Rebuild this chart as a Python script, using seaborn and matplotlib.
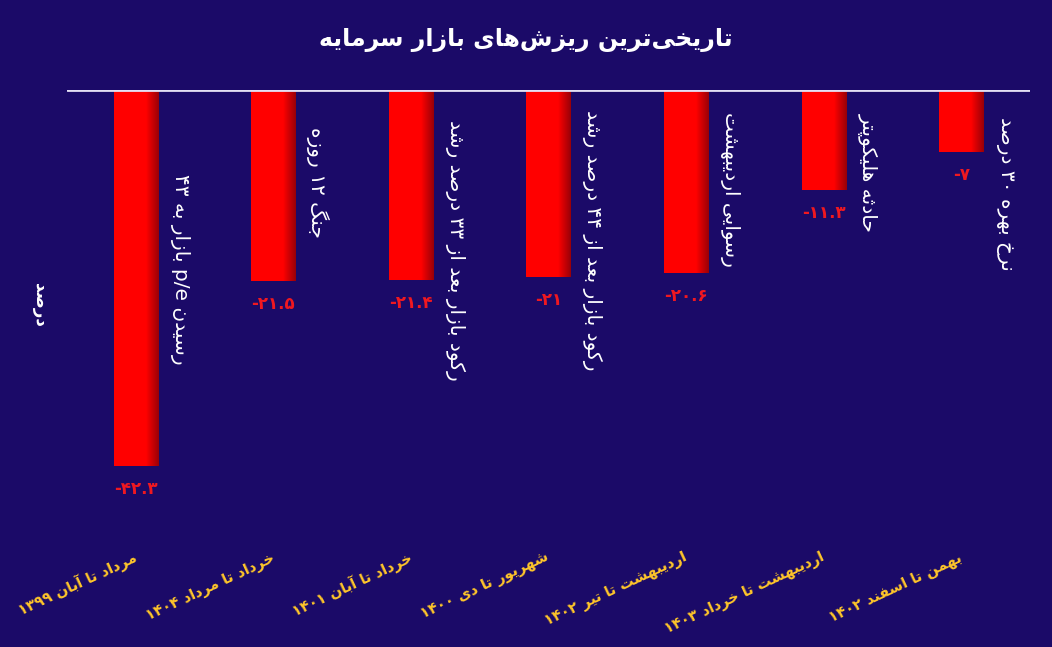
import matplotlib
matplotlib.use("Agg")
import matplotlib.pyplot as plt
import seaborn as sns
import pandas as pd
import numpy as np
from matplotlib.colors import LinearSegmentedColormap

# -----------------------------
# Data
# -----------------------------
periods = [
    "مرداد تا آبان ۱۳۹۹",
    "خرداد تا مرداد ۱۴۰۴",
    "خرداد تا آبان ۱۴۰۱",
    "شهریور تا دی ۱۴۰۰",
    "اردیبهشت تا تیر ۱۴۰۲",
    "اردیبهشت تا خرداد ۱۴۰۳",
    "بهمن تا اسفند ۱۴۰۲",
]
drops = [-42.3, -21.5, -21.4, -21.0, -20.6, -11.3, -7.0]
value_labels = ["-۴۲.۳", "-۲۱.۵", "-۲۱.۴", "-۲۱", "-۲۰.۶", "-۱۱.۳", "-۷"]
notes = [
    "رسیدن p/e بازار به ۴۳",
    "جنگ ۱۲ روزه",
    "رکود بازار بعد از ۳۳ درصد رشد",
    "رکود بازار بعد از ۴۴ درصد رشد",
    "رسوایی اردیبهشت",
    "حادثه هلیکوپتر",
    "نرخ بهره ۳۰ درصد",
]
title = "تاریخی‌ترین ریزش‌های بازار سرمایه"
ylabel = "درصد"

# top of each note (layout only)
note_top = [-9.5, -4.2, -3.4, -2.3, -2.5, -2.6, -3.1]

# -----------------------------
# Minimal Persian shaping (no reshaper lib available)
# -----------------------------
FORMS = {
    "ا": ("\uFE8D", "\uFE8E", None, None),
    "آ": ("\uFE81", "\uFE82", None, None),
    "ب": ("\uFE8F", "\uFE90", "\uFE91", "\uFE92"),
    "پ": ("\uFB56", "\uFB57", "\uFB58", "\uFB59"),
    "ت": ("\uFE95", "\uFE96", "\uFE97", "\uFE98"),
    "ث": ("\uFE99", "\uFE9A", "\uFE9B", "\uFE9C"),
    "ج": ("\uFE9D", "\uFE9E", "\uFE9F", "\uFEA0"),
    "ح": ("\uFEA1", "\uFEA2", "\uFEA3", "\uFEA4"),
    "خ": ("\uFEA5", "\uFEA6", "\uFEA7", "\uFEA8"),
    "د": ("\uFEA9", "\uFEAA", None, None),
    "ر": ("\uFEAD", "\uFEAE", None, None),
    "ز": ("\uFEAF", "\uFEB0", None, None),
    "س": ("\uFEB1", "\uFEB2", "\uFEB3", "\uFEB4"),
    "ش": ("\uFEB5", "\uFEB6", "\uFEB7", "\uFEB8"),
    "ص": ("\uFEB9", "\uFEBA", "\uFEBB", "\uFEBC"),
    "ع": ("\uFEC9", "\uFECA", "\uFECB", "\uFECC"),
    "ف": ("\uFED1", "\uFED2", "\uFED3", "\uFED4"),
    "ک": ("\uFB8E", "\uFB8F", "\uFB90", "\uFB91"),
    "گ": ("\uFB92", "\uFB93", "\uFB94", "\uFB95"),
    "ل": ("\uFEDD", "\uFEDE", "\uFEDF", "\uFEE0"),
    "م": ("\uFEE1", "\uFEE2", "\uFEE3", "\uFEE4"),
    "ن": ("\uFEE5", "\uFEE6", "\uFEE7", "\uFEE8"),
    "ه": ("\uFEE9", "\uFEEA", "\uFEEB", "\uFEEC"),
    "و": ("\uFEED", "\uFEEE", None, None),
    "ی": ("\uFBFC", "\uFBFD", "\uFBFE", "\uFBFF"),
}


def shape(text):
    out = []
    for i, c in enumerate(text):
        if c not in FORMS:
            if c != "\u200c":
                out.append(c)
            continue
        prev = text[i - 1] if i > 0 else None
        nxt = text[i + 1] if i + 1 < len(text) else None
        join_prev = prev in FORMS and FORMS[prev][2] is not None
        join_next = nxt in FORMS and FORMS[c][2] is not None
        iso, fin, ini, med = FORMS[c]
        if join_prev and join_next:
            out.append(med)
        elif join_prev:
            out.append(fin)
        elif join_next:
            out.append(ini)
        else:
            out.append(iso)
    return "".join(out)


def rtl(text):
    s = shape(text)
    runs = []
    for c in s:
        ltr = c.isdigit() or ("a" <= c.lower() <= "z") or c in "/."
        if runs and runs[-1][0] == ltr:
            runs[-1][1].append(c)
        else:
            runs.append((ltr, [c]))
    return "".join("".join(r) if ltr else "".join(r)[::-1] for ltr, r in reversed(runs))


# -----------------------------
# Plot
# -----------------------------
BG = "#1B0A68"
sns.set_theme(style="white")
plt.rcParams["font.family"] = ["DejaVu Sans"]

df = pd.DataFrame({"period": [rtl(p) for p in periods], "drop": drops})

fig = plt.figure(figsize=(10.52, 6.47), dpi=100, facecolor=BG)
ax = fig.add_axes([0.0637, 0.174, 0.9153, 0.687])
ax.set_facecolor(BG)

sns.barplot(data=df, x="period", y="drop", color="#FF0000", saturation=1,
            width=0.32, linewidth=0, ax=ax)

ax.set_xlim(-0.5, 6.5)
ax.set_ylim(-50, 0)

# shaded right edge on each bar
shade = LinearSegmentedColormap.from_list(
    "shade", [(0, "#FF0000"), (0.72, "#FF0000"), (1, "#9A0008")])
grad = np.linspace(0, 1, 64).reshape(1, -1)
for p in ax.patches:
    x0, y0 = p.get_x(), p.get_y()
    im = ax.imshow(grad, cmap=shade, aspect="auto", zorder=p.get_zorder() + 0.1,
                   extent=(x0, x0 + p.get_width(), y0 + p.get_height(), y0))
    im.set_clip_path(p)
ax.set_xlim(-0.5, 6.5)
ax.set_ylim(-50, 0)

ax.axhline(0, color="#E4E0F4", lw=2, zorder=5)

for s in ax.spines.values():
    s.set_visible(False)
ax.set_yticks([])
ax.set_xlabel("")
ax.set_ylabel("")

ax.tick_params(axis="x", length=0, pad=16)
for lbl in ax.get_xticklabels():
    lbl.set_rotation(25)
    lbl.set_rotation_mode("anchor")
    lbl.set_ha("right")
    lbl.set_va("center")
    lbl.set_color("#FFC62A")
    lbl.set_fontweight("bold")
    lbl.set_fontsize(10.5)

ax.bar_label(ax.containers[0], labels=value_labels, padding=10,
             color="#F01820", fontweight="bold", fontsize=12)

for i, note in enumerate(notes):
    ax.text(i + 0.32, note_top[i], rtl(note), rotation=-90, ha="center",
            va="top", color="white", fontsize=14.5)

fig.text(0.5, 1 - 40 / 647, rtl(title), ha="center", va="center",
         color="white", fontsize=17, fontweight="bold")
fig.text(40 / 1052, 1 - 305 / 647, rtl(ylabel), rotation=-90, ha="center",
         va="center", color="white", fontsize=12, fontweight="bold")

fig.savefig("out.png", dpi=100, facecolor=BG)
